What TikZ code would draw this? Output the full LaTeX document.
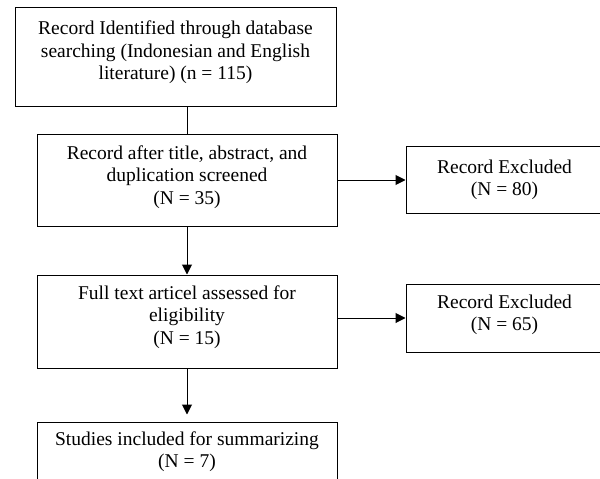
\documentclass[tikz,border=0pt]{standalone}
\usepackage{fontspec}
\setmainfont{Liberation Serif}
\usetikzlibrary{arrows.meta, positioning}
\tikzset{
  box/.style={rectangle,draw,line width=1pt,align=center,inner sep=3pt,minimum width=300pt,font=\fontsize{19.5}{22.5}\selectfont},
  line/.style={line width=1pt,-{Triangle[length=10pt,width=10pt]}}
}

\begin{document}
\begin{tikzpicture}[x=1pt,y=1pt,node distance=48pt and 68pt]
\clip (0,0) rectangle (600,-479);
\node[box, minimum width=321pt, minimum height=99pt] (ident) at (175.5,-56.5) {Record Identified through database\\searching (Indonesian and English\\literature) (n = 115)\\[-10pt]};
\node[box, minimum height=92pt, below=27pt of ident, xshift=11.5pt] (screen) {Record after title, abstract, and\\duplication screened\\(N = 35)\\[-12pt]};
\node[box, minimum height=93pt, below=of screen] (full) {Full text articel assessed for\\eligibility\\(N = 15)\\[-9pt]};
\node[box, minimum height=92pt, below=53pt of full] (incl) {Studies included for summarizing\\(N = 7)\\[14pt]};
\node[box, minimum width=197pt, minimum height=67pt, right=of screen] (excla) {Record Excluded\\(N = 80)\\[-18pt]};
\node[box, minimum width=197pt, minimum height=68pt, right=of full, yshift=3.5pt] (exclb) {Record Excluded\\(N = 65)\\[-12pt]};
\draw[line width=1pt] (screen.north) -- (screen.north |- ident.south);
\draw[line] (screen) -- (full);
\draw[line, shorten >=7pt] (full) -- (incl);
\draw[line] (screen.east |- excla) -- (excla);
\draw[line] (full.east |- exclb) -- (exclb);
\end{tikzpicture}
\end{document}
